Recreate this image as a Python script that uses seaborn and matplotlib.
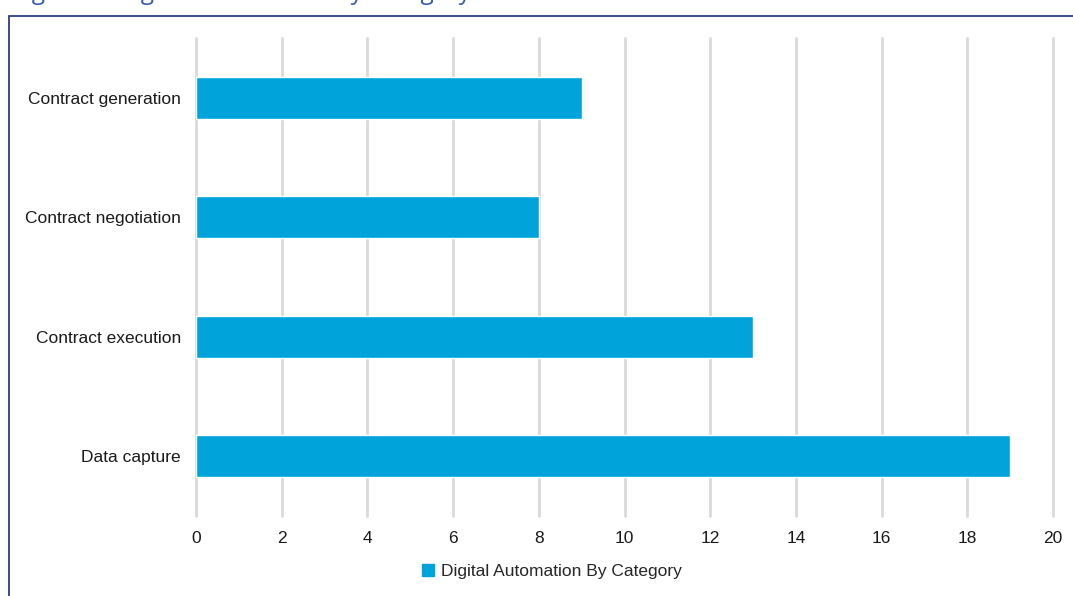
import matplotlib
matplotlib.use("Agg")
import matplotlib.pyplot as plt
import matplotlib.patches as mpatches
import seaborn as sns
import pandas as pd

categories = ["Contract generation", "Contract negotiation", "Contract execution", "Data capture"]
values = [9, 8, 13, 19]
series_name = "Digital Automation By Category"
x_ticks = [0, 2, 4, 6, 8, 10, 12, 14, 16, 18, 20]

bar_color = "#00A3DA"
grid_color = "#D9D9D9"
frame_color = "#2B3F7A"
title_color = "#3A5DAE"

sns.set_theme(style="white")
plt.rcParams["font.family"] = ["Liberation Sans", "DejaVu Sans"]

df = pd.DataFrame({"category": categories, "value": values})

fig = plt.figure(figsize=(10.73, 5.96), dpi=100)
ax = fig.add_axes([0.1827, 0.1342, 0.7987, 0.802])

sns.barplot(data=df, y="category", x="value", orient="h", color=bar_color,
            width=0.35, saturation=1, ax=ax, zorder=3)

ax.set_xlim(0, 20)
ax.set_ylim(3.5, -0.5)
ax.set_xticks(x_ticks)
ax.set_xticklabels([str(t) for t in x_ticks])
ax.xaxis.grid(True, color=grid_color, linewidth=2, zorder=0)
for gl in ax.get_xgridlines():
    gl.set_clip_on(False)
ax.yaxis.grid(False)
for s in ax.spines.values():
    s.set_visible(False)
ax.tick_params(axis="both", length=0, labelsize=12.5, colors="#1A1A1A")
ax.tick_params(axis="x", pad=11)
ax.tick_params(axis="y", pad=11)
ax.set_xlabel("")
ax.set_ylabel("")

# legend below the axis
handle = mpatches.Patch(color=bar_color, label=series_name)
fig.legend(handles=[handle], loc="center", bbox_to_anchor=(0.514, 0.041),
           frameon=False, fontsize=12.5, handlelength=0.7, handleheight=0.7,
           handletextpad=0.4)

# surrounding frame
frame = mpatches.Rectangle((9 / 1073, -0.05), 1.2, 1 - 16 / 596 + 0.05,
                           transform=fig.transFigure, fill=False,
                           edgecolor=frame_color, linewidth=1.3)
fig.add_artist(frame)

# title line, sitting mostly above the top edge
fig.text(13 / 1073, 1 + 1 / 596, "Figure 6: Digital Automation by Category",
         fontsize=17.6, color=title_color, family=["Open Sans", "DejaVu Sans"],
         ha="left", va="baseline")

fig.savefig("out.png", dpi=100)
